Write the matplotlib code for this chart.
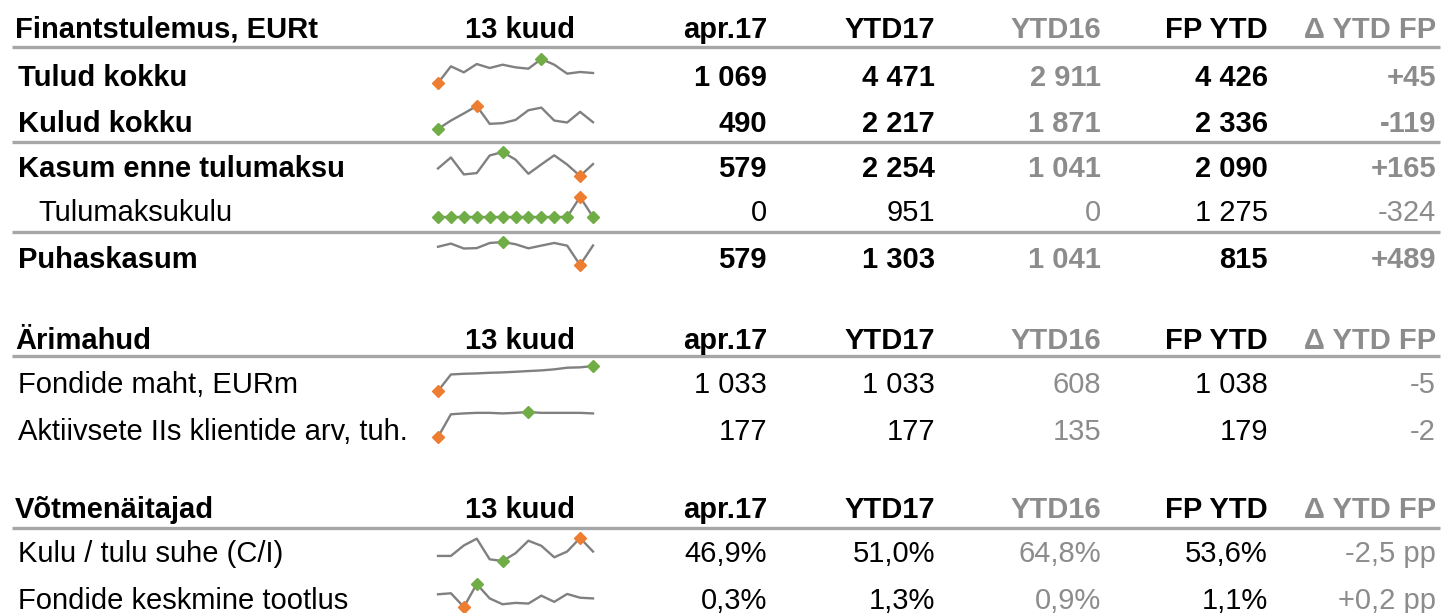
import matplotlib
matplotlib.use("Agg")
import matplotlib.pyplot as plt

plt.rcParams['font.family'] = ['Liberation Sans', 'DejaVu Sans']

W, H = 1445, 613

# --- data ---
col_names = ['13 kuud', 'apr.17', 'YTD17', 'YTD16', 'FP YTD', 'Δ YTD FP']
sections = ['Finantstulemus, EURt', 'Ärimahud', 'Võtmenäitajad']

row_labels = ['Tulud kokku', 'Kulud kokku', 'Kasum enne tulumaksu', 'Tulumaksukulu', 'Puhaskasum',
              'Fondide maht, EURm', 'Aktiivsete IIs klientide arv, tuh.',
              'Kulu / tulu suhe (C/I)', 'Fondide keskmine tootlus']
apr17 = ['1 069', '490', '579', '0', '579', '1 033', '177', '46,9%', '0,3%']
ytd17 = ['4 471', '2 217', '2 254', '951', '1 303', '1 033', '177', '51,0%', '1,3%']
ytd16 = ['2 911', '1 871', '1 041', '0', '1 041', '608', '135', '64,8%', '0,9%']
fp_ytd = ['4 426', '2 336', '2 090', '1 275', '815', '1 038', '179', '53,6%', '1,1%']
delta = ['+45', '-119', '+165', '-324', '+489', '-5', '-2', '-2,5 pp', '+0,2 pp']
bold_rows = [True, True, True, False, True, False, False, False, False]
# True: high value is good (max green, min orange)
high_good = [True, False, True, False, True, True, True, False, True]

# 13 months, apr.16 .. apr.17
tulud = [844, 1219, 1084, 1271, 1181, 1256, 1196, 1166, 1384, 1256, 1054, 1092, 1069]
kulud = [340, 526, 683, 847, 454, 469, 540, 754, 811, 526, 483, 718, 490]
kasum = [504, 693, 401, 424, 727, 787, 656, 412, 573, 730, 571, 374, 579]
tulumaks = [0, 0, 0, 0, 0, 0, 0, 0, 0, 0, 0, 951, 0]
puhaskasum = [504, 693, 401, 424, 727, 787, 656, 412, 573, 730, 571, -577, 579]
fondide_maht = [608, 889, 901, 907, 918, 924, 935, 947, 958, 976, 1004, 1010, 1033]
kliendid = [135, 175, 176.5, 177.5, 177.5, 176.5, 177.5, 179, 177.5, 177.5, 177.5, 177.5, 176.5]
kulu_tulu = [41.7, 41.7, 54.1, 62.1, 37.7, 35.7, 44.9, 59.7, 53.7, 40.1, 46.9, 62.9, 46.9]
tootlus = [0.54, 0.60, -0.20, 1.14, 0.30, -0.04, 0.04, 0.00, 0.46, 0.10, 0.56, 0.34, 0.30]
spark = [tulud, kulud, kasum, tulumaks, puhaskasum, fondide_maht, kliendid, kulu_tulu, tootlus]

# layout (pixels)
row_y = [78, 124, 169, 213, 260, 385, 432, 554, 601]
spark_box = [(59, 83), (106, 129), (152, 176), (197, 217), (242, 265),
             (366, 391), (412, 437), (538, 561), (584, 607)]
head_y = [30, 341, 510]
rule_y = [47, 142, 232, 356, 528]
col_x = [520, 767, 935, 1101, 1268, 1436]
col_color = ['black', 'black', 'black', '#8c8c8c', 'black', '#8c8c8c']
FS = 21
GREEN = '#70ad47'
ORANGE = '#ed7d31'

fig = plt.figure(figsize=(W / 100, H / 100), dpi=100)
ax = fig.add_axes([0, 0, 1, 1])
ax.set_xlim(0, W)
ax.set_ylim(H, 0)
ax.axis('off')

for i, title in enumerate(sections):
    y = head_y[i]
    ax.text(15, y, title, fontsize=FS, fontweight='bold', va='center', ha='left')
    for j, c in enumerate(col_names):
        ax.text(col_x[j], y, c, fontsize=FS, fontweight='bold', va='center',
                ha='center' if j == 0 else 'right', color=col_color[j])

for y in rule_y:
    ax.plot([12, 1440], [y, y], color='#a6a6a6', lw=2.4, solid_capstyle='butt')

for r, label in enumerate(row_labels):
    y = row_y[r]
    fw = 'bold' if bold_rows[r] else 'normal'
    x0 = 38 if label == 'Tulumaksukulu' else 18
    ax.text(x0, y, label, fontsize=FS, fontweight=fw, va='center', ha='left')
    vals = [apr17[r], ytd17[r], ytd16[r], fp_ytd[r], delta[r]]
    for j, v in enumerate(vals):
        ax.text(col_x[j + 1], y, v, fontsize=FS, fontweight=fw, va='center', ha='right',
                color=col_color[j + 1])

    # sparkline
    top, bot = spark_box[r]
    sax = fig.add_axes([438 / W, 1 - bot / H, 155 / W, (bot - top) / H])
    data = spark[r]
    xs = range(len(data))
    sax.plot(xs, data, color='#808080', lw=1.7, clip_on=False)
    lo, hi = min(data), max(data)
    hi_col = GREEN if high_good[r] else ORANGE
    lo_col = ORANGE if high_good[r] else GREEN
    for k, v in enumerate(data):
        if v == hi:
            sax.plot(k, v, 'D', color=hi_col, ms=6, clip_on=False, zorder=3)
        elif v == lo:
            sax.plot(k, v, 'D', color=lo_col, ms=6, clip_on=False, zorder=3)
    sax.set_xlim(0, len(data) - 1)
    sax.set_ylim(lo, hi)
    sax.axis('off')

fig.savefig('out.png', dpi=100)
